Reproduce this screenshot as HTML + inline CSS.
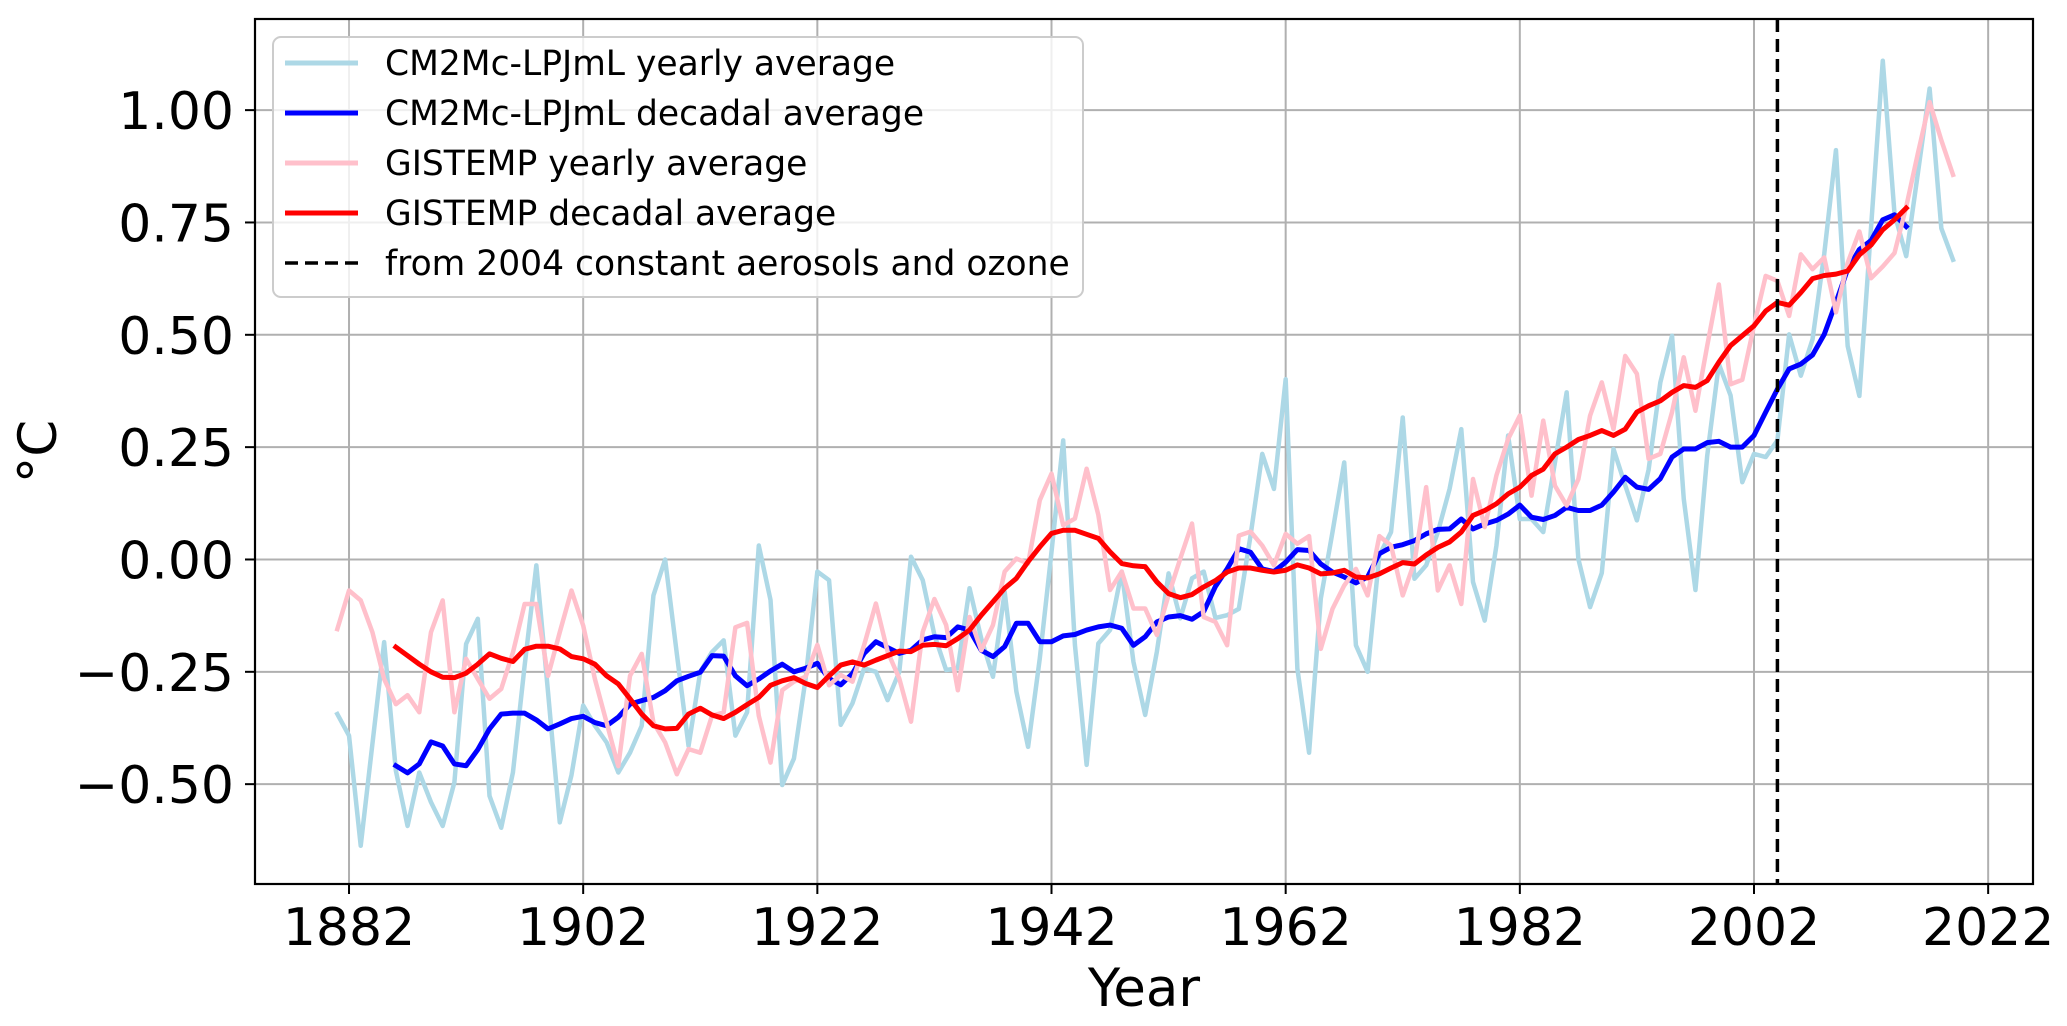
<!DOCTYPE html>
<html><head><meta charset="utf-8"><title>Temperature anomaly chart</title>
<style>
html,body{margin:0;padding:0;background:#fff;}
svg{display:block;font-family:"DejaVu Sans","Liberation Sans",sans-serif;}
</style></head>
<body>
<svg id="chart" width="2067" height="1026" viewBox="0 0 2067 1026" xmlns="http://www.w3.org/2000/svg">
  <g id="grid"></g>
  <g id="series"></g>
  <g id="axes"></g>
  <text x="1144" y="1006" font-size="53" text-anchor="middle">Year</text>
  <text transform="translate(56,451.5) rotate(-90)" font-size="53" text-anchor="middle">°C</text>
  <g id="legend">
    <rect x="273" y="37" width="810" height="260" rx="8" fill="#fff" fill-opacity="0.8" stroke="#cccccc" stroke-width="2"/>
  </g>
</svg>
<script>
// ---- data ----
const yearlyStart = 1881;
const decadalStart = 1886;
const xTicks = [1882, 1902, 1922, 1942, 1962, 1982, 2002, 2022];
const yTicks = [-0.5, -0.25, 0, 0.25, 0.5, 0.75, 1.0];
const yTickLabels = ["\u22120.50", "\u22120.25", "0.00", "0.25", "0.50", "0.75", "1.00"];
const markerYear = 2004;
const modelYearly = [
-0.344,-0.392,-0.637,-0.41,-0.184,-0.47,-0.593,-0.474,-0.54,-0.593,
-0.496,-0.188,-0.132,-0.526,-0.597,-0.474,-0.236,-0.013,-0.296,-0.585,
-0.48,-0.325,-0.37,-0.407,-0.474,-0.43,-0.37,-0.08,0.0,-0.21,
-0.415,-0.25,-0.206,-0.18,-0.392,-0.34,0.031,-0.09,-0.502,-0.443,
-0.265,-0.027,-0.046,-0.368,-0.32,-0.242,-0.25,-0.313,-0.25,0.006,
-0.046,-0.168,-0.246,-0.242,-0.064,-0.176,-0.261,-0.072,-0.294,-0.417,
-0.22,0.017,0.265,-0.19,-0.457,-0.187,-0.157,-0.027,-0.228,-0.346,
-0.205,-0.031,-0.131,-0.042,-0.027,-0.13,-0.124,-0.11,0.053,0.235,
0.157,0.401,-0.243,-0.43,-0.087,0.061,0.216,-0.191,-0.25,0.009,
0.061,0.316,-0.043,-0.013,0.061,0.157,0.29,-0.05,-0.136,0.031,
0.276,0.09,0.09,0.061,0.216,0.372,0.001,-0.106,-0.03,0.246,
0.165,0.087,0.2,0.394,0.498,0.135,-0.068,0.23,0.435,0.365,
0.172,0.235,0.228,0.265,0.501,0.409,0.49,0.68,0.911,0.475,
0.364,0.74,1.11,0.77,0.675,0.86,1.048,0.737,0.667];
const modelDecadal = [
-0.459,-0.475,-0.455,-0.406,-0.415,-0.455,-0.459,-0.423,-0.377,-0.344,
-0.342,-0.342,-0.357,-0.377,-0.366,-0.354,-0.349,-0.363,-0.37,-0.351,
-0.322,-0.314,-0.307,-0.292,-0.27,-0.26,-0.251,-0.214,-0.215,-0.259,
-0.281,-0.266,-0.248,-0.233,-0.25,-0.242,-0.231,-0.265,-0.279,-0.254,
-0.209,-0.183,-0.196,-0.209,-0.202,-0.179,-0.172,-0.174,-0.15,-0.157,
-0.202,-0.216,-0.194,-0.142,-0.142,-0.183,-0.183,-0.17,-0.167,-0.157,
-0.15,-0.146,-0.153,-0.191,-0.172,-0.139,-0.128,-0.125,-0.133,-0.116,
-0.06,-0.021,0.024,0.016,-0.021,-0.027,-0.006,0.022,0.02,-0.01,
-0.028,-0.039,-0.052,-0.039,0.013,0.027,0.033,0.042,0.057,0.067,
0.068,0.09,0.068,0.079,0.087,0.101,0.121,0.094,0.089,0.098,
0.116,0.109,0.109,0.121,0.15,0.183,0.161,0.156,0.18,0.228,
0.246,0.246,0.26,0.263,0.25,0.25,0.276,0.328,0.379,0.424,
0.435,0.455,0.501,0.572,0.646,0.69,0.71,0.756,0.767,0.741];
const gisYearly = [
-0.155,-0.069,-0.091,-0.162,-0.266,-0.322,-0.302,-0.34,-0.162,-0.091,
-0.34,-0.221,-0.266,-0.31,-0.288,-0.207,-0.099,-0.099,-0.259,-0.162,
-0.069,-0.147,-0.266,-0.363,-0.46,-0.259,-0.21,-0.363,-0.407,-0.478,
-0.422,-0.43,-0.348,-0.34,-0.151,-0.141,-0.348,-0.452,-0.291,-0.272,
-0.261,-0.19,-0.28,-0.257,-0.272,-0.19,-0.098,-0.205,-0.265,-0.361,
-0.161,-0.088,-0.146,-0.291,-0.128,-0.202,-0.146,-0.027,0.002,-0.009,
0.132,0.191,0.076,0.091,0.202,0.099,-0.068,-0.027,-0.109,-0.109,
-0.168,-0.079,0.002,0.08,-0.128,-0.139,-0.191,0.053,0.062,0.031,
-0.013,0.057,0.035,0.052,-0.199,-0.11,-0.058,-0.021,-0.08,0.052,
0.031,-0.08,-0.006,0.161,-0.069,-0.013,-0.099,0.179,0.072,0.187,
0.268,0.32,0.142,0.309,0.164,0.12,0.179,0.32,0.394,0.29,
0.453,0.413,0.224,0.235,0.328,0.45,0.331,0.475,0.612,0.39,
0.40,0.52,0.631,0.62,0.542,0.679,0.646,0.672,0.55,0.66,
0.73,0.626,0.652,0.682,0.785,0.904,1.018,0.933,0.856];
const gisDecadal = [
-0.195,-0.214,-0.233,-0.25,-0.262,-0.263,-0.253,-0.233,-0.21,-0.22,
-0.227,-0.2,-0.193,-0.193,-0.199,-0.216,-0.221,-0.233,-0.259,-0.277,
-0.31,-0.344,-0.37,-0.377,-0.376,-0.344,-0.331,-0.346,-0.354,-0.34,
-0.323,-0.307,-0.28,-0.27,-0.263,-0.276,-0.285,-0.259,-0.235,-0.228,
-0.235,-0.224,-0.214,-0.204,-0.205,-0.191,-0.189,-0.192,-0.176,-0.157,
-0.124,-0.094,-0.064,-0.042,-0.005,0.028,0.058,0.065,0.065,0.056,
0.047,0.017,-0.009,-0.014,-0.016,-0.05,-0.076,-0.085,-0.078,-0.061,
-0.047,-0.028,-0.019,-0.019,-0.024,-0.028,-0.024,-0.012,-0.019,-0.032,
-0.03,-0.024,-0.039,-0.041,-0.032,-0.019,-0.007,-0.01,0.01,0.027,
0.039,0.061,0.098,0.109,0.124,0.146,0.161,0.187,0.201,0.235,
0.25,0.267,0.276,0.287,0.276,0.29,0.328,0.342,0.353,0.372,
0.387,0.383,0.398,0.439,0.476,0.498,0.52,0.553,0.572,0.566,
0.594,0.625,0.632,0.635,0.642,0.678,0.70,0.734,0.756,0.782];

// ---- layout ----
const NS = "http://www.w3.org/2000/svg";
const L = 255, R = 2033, T = 19, B = 884;
const X0 = 1873.97, X1 = 2025.83, Y0 = -0.7222, Y1 = 1.2028;
function xs(v){ return L + (v - X0) / (X1 - X0) * (R - L); }
function ys(v){ return B - (v - Y0) / (Y1 - Y0) * (B - T); }
function mk(tag, attrs, parent){
  const e = document.createElementNS(NS, tag);
  for (const k in attrs) e.setAttribute(k, attrs[k]);
  parent.appendChild(e);
  return e;
}
const grid = document.getElementById('grid');
const axes = document.getElementById('axes');
const series = document.getElementById('series');

xTicks.forEach(function(t){
  const x = xs(t);
  const g = mk('line', {x1:x, x2:x, y1:T, y2:B, stroke:'#b0b0b0', 'stroke-width':2}, grid);
  
  
  const tk = mk('line', {x1:x, x2:x, y1:B, y2:B+10, stroke:'#000', 'stroke-width':2}, axes);
  
  
  const lb = mk('text', {x:x, y:945, 'font-size':52, 'text-anchor':'middle'}, axes);
  lb.textContent = String(t);
  
  
});
yTicks.forEach(function(t, i){
  const y = ys(t);
  const g = mk('line', {x1:L, x2:R, y1:y, y2:y, stroke:'#b0b0b0', 'stroke-width':2}, grid);
  
  
  const tk = mk('line', {x1:L-10, x2:L, y1:y, y2:y, stroke:'#000', 'stroke-width':2}, axes);
  
  
  const lb = mk('text', {x:234, y:y+19, 'font-size':52, 'text-anchor':'end'}, axes);
  lb.textContent = yTickLabels[i];
  
  
});
const frame = mk('rect', {x:L, y:T, width:R-L, height:B-T, fill:'none', stroke:'#000', 'stroke-width':2.2}, axes);



function drawLine(vals, start, color, w, name){
  const pts = vals.map(function(v, i){ return xs(start + i).toFixed(2) + ',' + ys(v).toFixed(2); }).join(' ');
  const p = mk('polyline', {points:pts, fill:'none', stroke:color, 'stroke-width':w, 'stroke-linejoin':'round', 'stroke-linecap':'square'}, series);
  
  
}
drawLine(modelYearly, yearlyStart, '#add8e6', 4.5, 'cm2mc-yearly-line');
drawLine(modelDecadal, decadalStart, '#0000ff', 5, 'cm2mc-decadal-line');
drawLine(gisYearly, yearlyStart, '#ffc0cb', 4.5, 'gistemp-yearly-line');
drawLine(gisDecadal, decadalStart, '#ff0000', 5, 'gistemp-decadal-line');
const mx = xs(markerYear);
const dl = mk('line', {x1:mx, x2:mx, y1:T, y2:B, stroke:'#000', 'stroke-width':3.5, 'stroke-dasharray':'13 7'}, series);



// legend
const legend = document.getElementById('legend');
const entries = [
  ['CM2Mc-LPJmL yearly average', '#add8e6', null],
  ['CM2Mc-LPJmL decadal average', '#0000ff', null],
  ['GISTEMP yearly average', '#ffc0cb', null],
  ['GISTEMP decadal average', '#ff0000', null],
  ['from 2004 constant aerosols and ozone', '#000', '13 7']
];
entries.forEach(function(e, i){
  const y = 63 + i * 50;
  const ln = mk('line', {x1:285, x2:358, y1:y, y2:y, stroke:e[1], 'stroke-width': e[2] ? 3.5 : 5}, legend);
  if (e[2]) ln.setAttribute('stroke-dasharray', e[2]);
  
  
  const tx = mk('text', {x:385, y:y+12, 'font-size':34.5}, legend);
  tx.textContent = e[0];
  
  
});
</script>
</body></html>
